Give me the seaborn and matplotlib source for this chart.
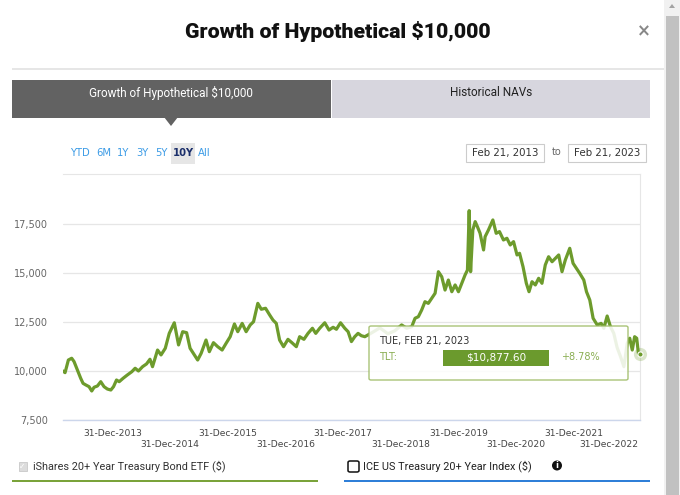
import numpy as np
import pandas as pd
import matplotlib
matplotlib.use("Agg")
import matplotlib.pyplot as plt
from matplotlib.patches import Rectangle, FancyBboxPatch, Polygon, Ellipse
import seaborn as sns

# ---------------- data ----------------
dates = [
    "2013-02-21", "2013-03-06", "2013-03-27", "2013-04-17", "2013-05-02", "2013-05-23",
    "2013-06-13", "2013-06-28", "2013-07-15", "2013-08-05", "2013-08-22", "2013-09-06",
    "2013-09-27", "2013-10-18", "2013-11-08", "2013-11-29", "2013-12-21", "2014-01-07",
    "2014-01-26", "2014-02-12", "2014-03-09", "2014-04-05", "2014-05-03", "2014-05-24",
    "2014-06-14", "2014-07-10", "2014-08-04", "2014-08-26", "2014-09-11", "2014-10-13",
    "2014-11-04", "2014-12-01", "2014-12-26", "2015-01-27", "2015-02-23", "2015-03-21",
    "2015-04-15", "2015-05-07", "2015-06-03", "2015-06-24", "2015-07-16", "2015-08-16",
    "2015-09-06", "2015-10-02", "2015-10-29", "2015-11-26", "2015-12-21", "2016-01-16",
    "2016-02-12", "2016-03-04", "2016-04-01", "2016-04-26", "2016-05-22", "2016-06-12",
    "2016-07-09", "2016-07-31", "2016-08-27", "2016-09-22", "2016-10-13", "2016-11-03",
    "2016-11-24", "2016-12-19", "2017-01-16", "2017-02-10", "2017-03-10", "2017-03-31",
    "2017-04-27", "2017-05-23", "2017-06-20", "2017-07-11", "2017-08-05", "2017-09-06",
    "2017-10-03", "2017-10-29", "2017-11-19", "2017-12-15", "2018-01-11", "2018-02-01",
    "2018-02-22", "2018-03-15", "2018-04-05", "2018-04-26", "2018-05-18", "2018-07-01",
    "2018-08-21", "2018-10-11", "2018-11-24", "2019-01-06", "2019-02-07", "2019-03-11",
    "2019-04-01", "2019-04-22", "2019-05-13", "2019-06-03", "2019-06-24", "2019-07-16",
    "2019-08-06", "2019-08-27", "2019-09-17", "2019-10-08", "2019-10-29", "2019-11-20",
    "2019-12-11", "2020-01-01", "2020-01-22", "2020-02-12", "2020-02-27", "2020-03-09",
    "2020-03-18", "2020-04-01", "2020-04-16", "2020-04-30", "2020-05-17", "2020-06-08",
    "2020-06-18", "2020-07-09", "2020-08-06", "2020-08-27", "2020-09-17", "2020-10-12",
    "2020-11-03", "2020-11-24", "2020-12-15", "2021-01-06", "2021-01-22", "2021-02-13",
    "2021-03-06", "2021-03-23", "2021-04-11", "2021-05-02", "2021-05-23", "2021-06-13",
    "2021-07-04", "2021-07-25", "2021-08-16", "2021-09-06", "2021-09-27", "2021-10-18",
    "2021-11-08", "2021-12-06", "2021-12-27", "2022-01-17", "2022-02-07", "2022-03-05",
    "2022-03-22", "2022-04-12", "2022-05-03", "2022-05-29", "2022-06-23", "2022-07-10",
    "2022-07-31", "2022-08-21", "2022-09-11", "2022-10-02", "2022-10-24", "2022-11-14",
    "2022-12-05", "2022-12-21", "2023-01-06", "2023-01-21", "2023-02-03", "2023-02-14",
    "2023-02-21",
]
tlt_values = [
    10000, 9915, 10560, 10650, 10480, 10050,
    9630, 9370, 9290, 9200, 8980, 9170,
    9235, 9455, 9200, 9080, 9030, 9200,
    9540, 9455, 9630, 9800, 9965, 10140,
    10000, 10220, 10360, 10600, 10220, 11070,
    10820, 11160, 11920, 12460, 11330, 12005,
    11955, 11160, 10820, 10560, 10900, 11580,
    10985, 11445, 11240, 11070, 11410, 11750,
    12400, 12005, 12430, 12005, 12350, 12515,
    13450, 13150, 13200, 12860, 12600, 12430,
    11580, 11240, 11615, 11445, 11240, 11750,
    11615, 11920, 12180, 11920, 12180, 12460,
    12090, 12230, 12130, 12460, 12180, 12005,
    11500, 11750, 11920, 11800, 11750, 11950,
    12200, 11900, 12050, 12350, 12180, 12260,
    12690, 12770, 13110, 13535, 13450, 13710,
    13965, 15065, 14810, 14130, 14640, 14045,
    14390, 14045, 14475, 14900, 15150, 18180,
    15065, 17195, 17620, 17365, 17025, 16175,
    16855, 17195, 17705, 17025, 17110, 16685,
    16770, 16430, 16600, 15920, 16005, 15320,
    14475, 14045, 14555, 14390, 14730, 14475,
    15410, 15830, 15575, 15750, 15920, 15065,
    15665, 16260, 15495, 15240, 14985, 14640,
    14045, 13620, 12690, 12350, 12430, 12180,
    12805, 12260, 11920, 11200, 10730, 10220,
    11410, 11670, 11070, 11750, 11670, 10900,
    10877.60,
]
y_ticks = [7500, 10000, 12500, 15000, 17500]
x_tick_dates = ["2013-12-31", "2014-12-31", "2015-12-31", "2016-12-31", "2017-12-31",
                "2018-12-31", "2019-12-31", "2020-12-31", "2021-12-31", "2022-12-31"]
x_tick_labels = ["31-Dec-2013", "31-Dec-2014", "31-Dec-2015", "31-Dec-2016", "31-Dec-2017",
                 "31-Dec-2018", "31-Dec-2019", "31-Dec-2020", "31-Dec-2021", "31-Dec-2022"]
range_buttons = ["YTD", "6M", "1Y", "3Y", "5Y", "10Y", "All"]
start_label, end_label = "Feb 21, 2013", "Feb 21, 2023"
tooltip_date = "TUE, FEB 21, 2023"
tooltip_value = "$10,877.60"
tooltip_change = "+8.78%"

df = pd.DataFrame({"date": pd.to_datetime(dates), "value": tlt_values})

# ---------------- figure ----------------
sns.set_theme(style="white")
plt.rcParams["font.family"] = ["DejaVu Sans"]
W, H = 680, 495
fig = plt.figure(figsize=(W / 100, H / 100), dpi=100)
fig.patch.set_facecolor("white")


def fx(x):
    return x / W


def fy(y):
    return 1 - y / H


def rect(x0, y0, x1, y1, **kw):
    r = Rectangle((fx(x0), fy(y1)), fx(x1) - fx(x0), fy(y0) - fy(y1),
                  transform=fig.transFigure, **kw)
    fig.add_artist(r)
    return r


GREEN = "#6d9b2c"
UI = "Roboto"

# title and close
fig.text(fx(338), fy(32), "Growth of Hypothetical $10,000", ha="center", va="center",
         fontsize=15.3, fontweight="heavy", family=UI, color="#111111")
fig.text(fx(644), fy(31), "\u00d7", ha="center", va="center", fontsize=12,
         fontweight="bold", color="#888888")
# scrollbar
rect(664, 0, 680, 495, facecolor="#f1f1f1", edgecolor="none")
rect(666, 16, 679, 495, facecolor="#c1c1c1", edgecolor="none")
fig.add_artist(Polygon([[fx(669), fy(8)], [fx(675), fy(8)], [fx(672), fy(4)]],
                       closed=True, transform=fig.transFigure, facecolor="#a3a3a3",
                       edgecolor="none"))
# divider
rect(12, 68.5, 664, 70, facecolor="#e6e6e6", edgecolor="none")

# tabs
rect(12, 80, 331, 118, facecolor="#626262", edgecolor="none")
rect(332, 80, 650, 118, facecolor="#d7d6de", edgecolor="none")
fig.text(fx(171), fy(93), "Growth of Hypothetical $10,000", ha="center", va="center",
         fontsize=8.5, family=UI, color="white")
fig.text(fx(491), fy(93), "Historical NAVs", ha="center", va="center",
         fontsize=8.5, family=UI, color="#222222")
fig.add_artist(Polygon([[fx(164), fy(117)], [fx(178), fy(117)], [fx(171), fy(126)]],
                       closed=True, transform=fig.transFigure, facecolor="#626262",
                       edgecolor="none"))

# range selector
btn_x = [80, 104, 123, 142, 161, 183, 204]
rect(171, 143, 195, 164, facecolor="#e6e6e6", edgecolor="none")
for lab, bx in zip(range_buttons, btn_x):
    sel = lab == "10Y"
    fig.text(fx(bx), fy(153.5), lab, ha="center", va="center", fontsize=7.2,
             color="#1b2f6b" if sel else "#3b9be6", fontweight="bold" if sel else "normal")

# date inputs
for (x0, x1), lab in [((466, 544), start_label), ((568, 646), end_label)]:
    rect(x0, 143.5, x1, 162, facecolor="white", edgecolor="#cccccc", linewidth=0.8)
    fig.text(fx((x0 + x1) / 2), fy(153), lab, ha="center", va="center", fontsize=7.4,
             color="#333333")
fig.text(fx(557), fy(152), "to", ha="center", va="center", fontsize=7, color="#666666")

# ---------------- chart ----------------
ax_l, ax_r, ax_t, ax_b = 63, 640, 174, 420
ax = fig.add_axes([fx(ax_l), fy(ax_b), fx(ax_r) - fx(ax_l), fy(ax_t) - fy(ax_b)])
sns.lineplot(data=df, x="date", y="value", ax=ax, color=GREEN, linewidth=2.3,
             estimator=None, zorder=3)
ax.set_xlim(pd.Timestamp("2013-02-21"), pd.Timestamp("2023-02-24"))
ax.set_ylim(7500, 20050)
ax.set_yticks(y_ticks)
ax.set_yticklabels([f"{v:,}" for v in y_ticks], fontsize=7, color="#666666")
ax.yaxis.grid(True, color="#e6e6e6", linewidth=0.9)
ax.set_axisbelow(True)
ax.set_xlabel("")
ax.set_ylabel("")
ax.tick_params(axis="y", length=0, pad=11)
ax.set_xticks(pd.to_datetime(x_tick_dates))
ax.set_xticklabels([])
ax.tick_params(axis="x", length=8, width=0.9, color="#ccd6eb", direction="out", pad=2)
n_lab = len(x_tick_labels)
for i, (d, lab) in enumerate(zip(pd.to_datetime(x_tick_dates), x_tick_labels)):
    yy = -0.035 if i % 2 == 0 else -0.08
    if i == n_lab - 1:
        ax.text(0.998, yy, lab, transform=ax.transAxes, ha="right", va="top",
                fontsize=6.6, color="#444444")
    else:
        ax.text(d, yy, lab, transform=ax.get_xaxis_transform(), ha="center", va="top",
                fontsize=6.6, color="#444444")
for s in ["top", "right"]:
    ax.spines[s].set_color("#e6e6e6")
    ax.spines[s].set_linewidth(0.8)
ax.spines["left"].set_visible(False)
ax.spines["bottom"].set_color("#ccd6eb")
ax.spines["bottom"].set_linewidth(1)
ax.patch.set_alpha(0)

# end marker
last_d, last_v = df["date"].iloc[-1], df["value"].iloc[-1]
ax.scatter([last_d], [last_v], s=90, color=GREEN, alpha=0.25, zorder=5, linewidths=0,
           clip_on=False)
ax.scatter([last_d], [last_v], s=14, color=GREEN, zorder=6, edgecolors="white",
           linewidths=0.8, clip_on=False)

# tooltip
tip = FancyBboxPatch((fx(369), fy(380)), fx(628) - fx(369), fy(326) - fy(380),
                     boxstyle="round,pad=0,rounding_size=0.003", transform=fig.transFigure,
                     facecolor="white", edgecolor="#9dbb64", linewidth=1, alpha=0.88,
                     zorder=10)
fig.add_artist(tip)
fig.text(fx(379), fy(341), tooltip_date, ha="left", va="center", fontsize=7,
         color="#333333", zorder=11)
fig.text(fx(379), fy(357), "TLT:", ha="left", va="center", fontsize=7,
         color="#8aae52", zorder=11)
rect(443, 349.5, 549, 365.5, facecolor="#6b9a2d", edgecolor="none", zorder=11)
fig.text(fx(496), fy(357.5), tooltip_value, ha="center", va="center", fontsize=7.6,
         color="white", zorder=12)
fig.text(fx(580), fy(357.5), tooltip_change, ha="center", va="center", fontsize=7,
         color="#8aae52", zorder=11)

# ---------------- legend ----------------
rect(18.5, 461.5, 26.5, 470.5, facecolor="#dcdcdc", edgecolor="#c8c8c8", linewidth=0.6)
fig.text(fx(22.5), fy(466.5), "\u2713", ha="center", va="center", fontsize=5.5,
         color="#ffffff", fontweight="bold")
fig.text(fx(33), fy(466), "iShares 20+ Year Treasury Bond ETF ($)", ha="left",
         va="center", fontsize=7.8, family=UI, color="#333333")
rect(12, 480, 318, 482, facecolor="#7aa33a", edgecolor="none")

chk = FancyBboxPatch((fx(348), fy(472)), fx(359) - fx(348), fy(461) - fy(472),
                     boxstyle="round,pad=0,rounding_size=0.003", transform=fig.transFigure,
                     facecolor="white", edgecolor="#111111", linewidth=1.1)
fig.add_artist(chk)
fig.text(fx(363), fy(466), "ICE US Treasury 20+ Year Index ($)", ha="left",
         va="center", fontsize=7.8, family=UI, color="#222222")
fig.add_artist(Ellipse((fx(557), fy(465.5)), 10 / W, 10 / H, transform=fig.transFigure,
                       facecolor="#111111", edgecolor="none"))
fig.text(fx(557), fy(465.8), "i", ha="center", va="center", fontsize=6,
         color="white", fontweight="bold")
rect(344, 480, 650, 482, facecolor="#2f7fd8", edgecolor="none")

fig.savefig("out.png", dpi=100, facecolor="white")
